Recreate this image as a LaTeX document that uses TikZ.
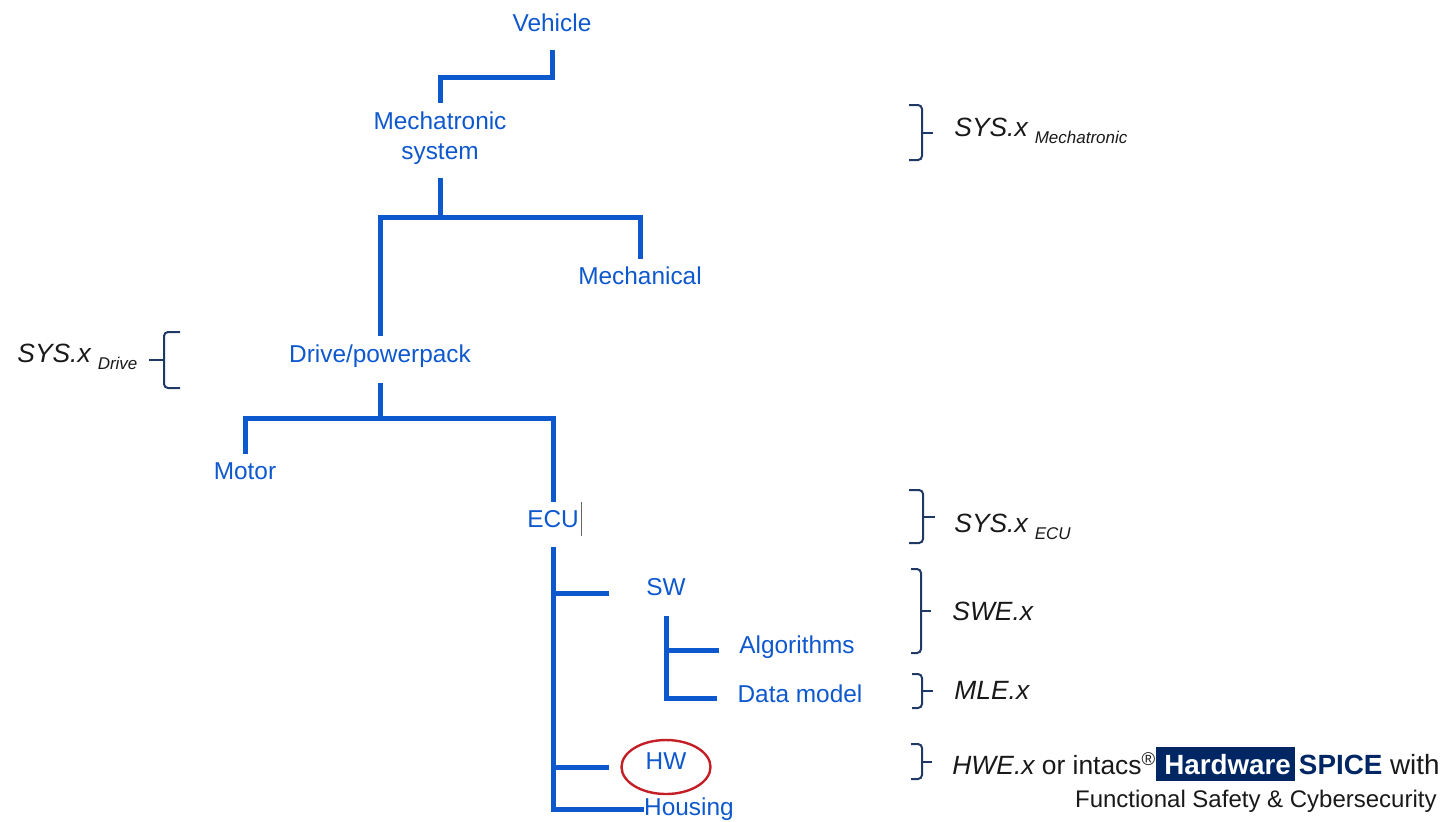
\documentclass[tikz,border=0pt]{standalone}
\usepackage{fontspec}
\setmainfont{Liberation Sans}
\usepackage{tikz}
\usetikzlibrary{shapes}
\definecolor{treeblue}{RGB}{14,88,206}
\definecolor{bracenavy}{RGB}{31,56,100}
\definecolor{spicenavy}{RGB}{0,38,100}
\definecolor{circlered}{RGB}{196,30,38}
\newcommand{\sublbl}[1]{\hspace{3.5pt}\raisebox{-3.5pt}{\fontsize{8.5}{10}\selectfont #1}}

\begin{document}
\begin{tikzpicture}[x=0.5pt, y=-0.5pt,
    item/.style={text=treeblue, font=\fontsize{12.2}{15}\selectfont, inner xsep=0pt, inner ysep=4pt},
    tree/.style={draw=treeblue, line width=2.5pt},
    bracket/.style={draw=bracenavy, line width=1pt, rounded corners=2pt},
    lbl/.style={text=black!90, font=\fontsize{13.2}{16}\selectfont\itshape, inner sep=0pt, anchor=base west}]
\useasboundingbox (0,0) rectangle (1449,821);
%\tikzstyle{item}=[draw=blue]
\begin{scope}
    \node[item] (vehicle) at (552,23) {Vehicle};
    \node[item, align=center] (mechatronic) at (440,138) {Mechatronic\\system};
    \node[item] (mechanical) at (640,276) {Mechanical};
    \node[item] (drive) at (380,356) {Drive/powerpack};
    \node[item] (motor) at (245,471) {Motor};
    \node[item] (ecu) at (553,519) {ECU};
    \node[item] (sw) at (666,587) {SW};
    \node[item] (algorithms) at (797,647) {Algorithms};
    \node[item] (datamodel) at (800,694) {Data model};
    \node[item, ellipse, draw=circlered, line width=1.2pt, inner sep=0pt,
          minimum width=44.5pt, minimum height=27pt, text depth=5.8pt] (hw) at (666,767) {HW};
    \node[item] (housing) at (689,809) {Housing};

    \draw[tree] ([yshift=-4.75pt]vehicle.south) -- ++(0,28) -| (mechatronic.north);
    \draw[tree] ([yshift=-2.5pt]mechatronic.south) -- ++(0,40) coordinate (j1);
    \draw[tree] (drive.north) |- (j1) -| (mechanical.north);
    \draw[tree] ([yshift=-3.5pt]drive.south) -- ++(0,36) coordinate (j2);
    \draw[tree] (motor.north) |- (j2) -| (ecu.north);
    \draw[tree] ([yshift=-5.5pt]ecu.south) |- (housing.west);
    \draw[tree] ([yshift=-3pt]ecu.south |- sw.center) -- ++(56,0);
    \draw[tree] (ecu.south |- hw.center) -- ++(56,0);
    \draw[tree] ([yshift=-6pt]sw.south) |- ([xshift=-10pt,yshift=-2pt]datamodel.west);
    \draw[tree] ([yshift=-1.5pt]sw.south |- algorithms.west) -- ([xshift=-10pt,yshift=-1.5pt]algorithms.west);
    \draw[black!60, line width=0.6pt] ([xshift=1pt]ecu.north east) -- ([xshift=1pt]ecu.south east);
\end{scope}

\begin{scope}
    \node[lbl] (sysmech) at (954,136) {SYS.x\sublbl{Mechatronic}};
    \node[lbl] (sysdrive) at (17,362) {SYS.x\sublbl{Drive}};
    \node[lbl] (sysecu) at (954,532) {SYS.x\sublbl{ECU}};
    \node[lbl] (swe) at (952,620) {SWE.x};
    \node[lbl] (mle) at (954,699) {MLE.x};
    \node[lbl] (hwe) at (952,774) {HWE.x \upshape or intacs\textsuperscript{®}%
        \fontsize{13.9}{16}\selectfont
        \setlength{\fboxsep}{0pt}\colorbox{spicenavy}{\rule[-3.5pt]{0pt}{17pt}\hspace{4pt}\bfseries\color{white}Hardware\hspace{2pt}}%
        \hspace{2pt}{\bfseries\color{spicenavy}SPICE} with};
    \node[lbl, font=\fontsize{12}{14}\selectfont, anchor=base east] (fusa) at (1437,807)
        {Functional Safety \& Cybersecurity};

    \draw[bracket] (909,105) -- (922,105) -- (922,160) -- (909,160);
    \draw[bracket] (922,133) -- (933,133);
    \draw[bracket] (180,332) -- (164,332) -- (164,388) -- (180,388);
    \draw[bracket] (164,360) -- (149,360);
    \draw[bracket] (909,490) -- (923,490) -- (923,543) -- (909,543);
    \draw[bracket] (923,517) -- (935,517);
    \draw[bracket] (911,569) -- (921,569) -- (921,653) -- (911,653);
    \draw[bracket] (921,611) -- (931,611);
    \draw[bracket] (912,674) -- (922,674) -- (922,708) -- (912,708);
    \draw[bracket] (922,691) -- (933,691);
    \draw[bracket] (911,744) -- (922,744) -- (922,779) -- (911,779);
    \draw[bracket] (922,762) -- (932,762);
\end{scope}
\end{tikzpicture}
\end{document}
